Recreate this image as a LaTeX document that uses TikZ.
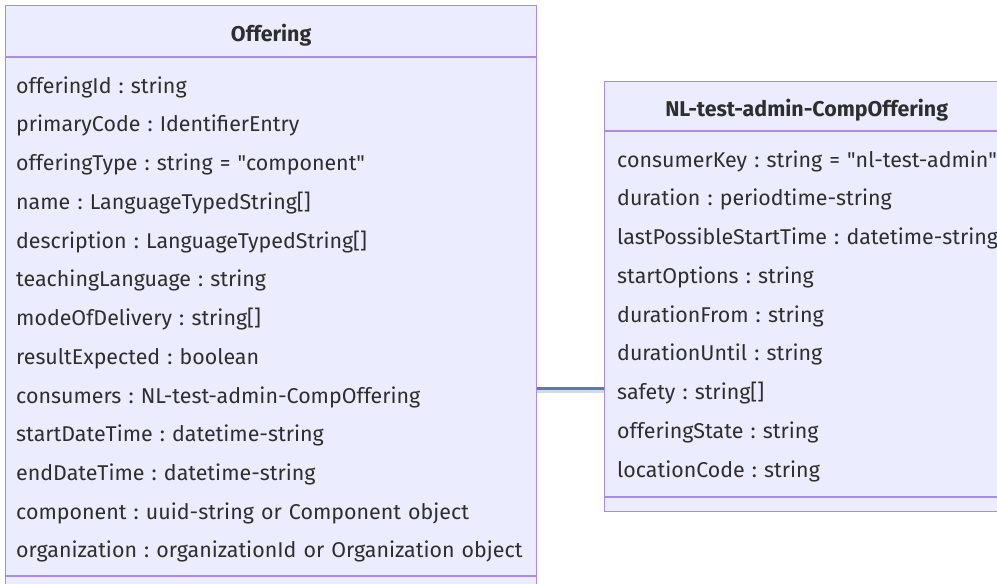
\documentclass[tikz,border=0pt]{standalone}
\usepackage{fontspec}
\setmainfont{Fira Sans}
\usetikzlibrary{positioning}
\definecolor{classfill}{HTML}{ECECFF}
\definecolor{classborder}{HTML}{9370DB}
\definecolor{linkblue}{HTML}{4F7DBE}
\definecolor{textgray}{HTML}{2E2E2E}
\newcommand{\qt}{\textquotedbl}
\frenchspacing

\begin{document}
\begin{tikzpicture}[
    x=1pt, y=-1pt,
    node distance=18.33pt,
    classbox/.style={draw=classborder!80, fill=classfill, line width=1.3pt,
                     anchor=north west, inner sep=0pt},
    sep/.style={draw=classborder!80, line width=1.3pt},
    attr/.style={anchor=north west, inner sep=0pt, text width=#1, align=left,
                 text height=15pt, text depth=5pt, text=textgray,
                 font=\fontsize{21.4}{25}\selectfont},
    title/.style={anchor=base, inner sep=0pt, text=textgray,
                  font=\fontsize{21.4}{25}\selectfont\bfseries},
    link/.style={draw=linkblue, line width=3pt},
    linkshadow/.style={draw=black, opacity=0.15, line width=3pt}
]
\useasboundingbox (0,0) rectangle (997,584);
\clip (0,0) rectangle (997,584);

% class boxes
\node[classbox, minimum width=531pt, minimum height=610pt] (offering) at (5,5) {};
\node[classbox, minimum width=404pt, minimum height=430pt] (comp)     at (604,81) {};

\draw[sep] (offering.west |- 0,57)  -- (offering.east |- 0,57);
\draw[sep] (offering.west |- 0,576) -- (offering.east |- 0,576);
\draw[sep] (comp.west |- 0,131)     -- (comp.east |- 0,131);
\draw[sep] (comp.west |- 0,497)     -- (comp.east |- 0,497);

\node[title] (offtitle)  at (offering.north |- 0,41) {Offering};
\node[title] (comptitle) at (comp.north |- 0,116)    {NL-test-admin-CompOffering};

% Offering attributes
\node[attr=515pt] (o1) at (16,78) {offeringId : string};
\node[attr=515pt, below=of o1]  (o2)  {primaryCode : IdentifierEntry};
\node[attr=515pt, below=of o2]  (o3)  {offeringType : string = \qt component\qt};
\node[attr=515pt, below=of o3]  (o4)  {name : LanguageTypedString[]};
\node[attr=515pt, below=of o4]  (o5)  {description : LanguageTypedString[]};
\node[attr=515pt, below=of o5]  (o6)  {teachingLanguage : string};
\node[attr=515pt, below=of o6]  (o7)  {modeOfDelivery : string[]};
\node[attr=515pt, below=of o7]  (o8)  {resultExpected : boolean};
\node[attr=515pt, below=of o8]  (o9)  {consumers : NL-test-admin-CompOffering};
\node[attr=515pt, below=of o9]  (o10) {startDateTime : datetime-string};
\node[attr=515pt, below=of o10] (o11) {endDateTime : datetime-string};
\node[attr=515pt, below=of o11] (o12) {component : uuid-string or Component object};
\node[attr=515pt, below=of o12] (o13) {organization : organizationId or Organization object};

% CompOffering attributes
\node[attr=420pt] (c1) at (617,152) {consumerKey : string = \qt nl-test-admin\qt};
\node[attr=420pt, below=of c1] (c2) {duration : periodtime-string};
\node[attr=420pt, below=of c2] (c3) {lastPossibleStartTime : datetime-string};
\node[attr=420pt, below=of c3] (c4) {startOptions : string};
\node[attr=420pt, below=of c4] (c5) {durationFrom : string};
\node[attr=420pt, below=of c5] (c6) {durationUntil : string};
\node[attr=420pt, below=of c6] (c7) {safety : string[]};
\node[attr=420pt, below=of c7] (c8) {offeringState : string};
\node[attr=420pt, below=of c8] (c9) {locationCode : string};

% association
\coordinate (lk) at (0,388);
\draw[linkshadow] ([yshift=-3pt]offering.east |- lk) -- ([yshift=-3pt]comp.west |- lk);
\draw[link] (offering.east |- lk) -- (comp.west |- lk);
\end{tikzpicture}
\end{document}
